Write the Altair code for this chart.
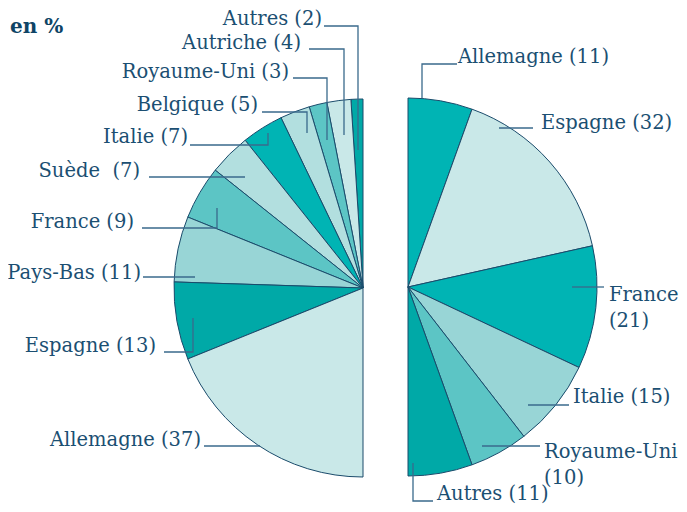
import math
import altair as alt
import pandas as pd

# ---------------- data ----------------
left_names = ["Autres", "Autriche", "Royaume-Uni", "Belgique", "Italie",
              "Suède", "France", "Pays-Bas", "Espagne", "Allemagne"]
left_values = [2, 4, 3, 5, 7, 7, 9, 11, 13, 37]
left_labels = ["Autres (2)", "Autriche (4)", "Royaume-Uni (3)", "Belgique (5)",
               "Italie (7)", "Suède\u00a0 (7)", "France (9)", "Pays-Bas (11)",
               "Espagne (13)", "Allemagne (37)"]

right_names = ["Allemagne", "Espagne", "France", "Italie", "Royaume-Uni", "Autres"]
right_values = [11, 32, 21, 15, 10, 11]
right_labels = ["Allemagne (11)", "Espagne (32)", "France\n(21)", "Italie (15)",
                "Royaume-Uni\n(10)", "Autres (11)"]

# ---------------- styles / layout ----------------
DARK = "#00A9A7"
TEAL = "#00B4B4"
VLIGHT = "#C9E8E8"
LIGHT = "#B2DFDF"
MLIGHT = "#98D5D6"
MED = "#5CC5C5"
left_colors = [DARK, VLIGHT, MED, LIGHT, TEAL, LIGHT, MED, MLIGHT, DARK, VLIGHT]
right_colors = [TEAL, VLIGHT, TEAL, MLIGHT, MED, DARK]

TEXT_COLOR = "#1B4F72"
LINE_COLOR = "#3A6A8C"
EDGE_COLOR = "#1A4B6B"
FONT = "DejaVu Serif"
FS = 19.5
R = 189
OFF = 8  # page margin
W, H = 671, 496

left_center = (363, 288)
right_center = (408, 287)

# label anchor positions (page px, vertical centre)
left_label_pos = [(322, 19), (301, 43), (289, 72), (258, 105), (188, 137),
                  (140, 171), (134, 222), (141, 273), (156, 346), (201, 440)]
right_label_pos = [(458, 57), (541, 123), (609, 295), (573, 397), (544, 452), (437, 494)]

left_leaders = [
    [(324, 26), (358, 26), (358, 150)],
    [(309, 49), (344, 49), (344, 135)],
    [(293, 78), (327, 78), (327, 140)],
    [(262, 112), (307, 112), (307, 133)],
    [(190, 145), (268, 145), (268, 133)],
    [(149, 177), (245, 177)],
    [(142, 228), (217, 228), (217, 208)],
    [(143, 277), (195, 277)],
    [(164, 352), (193, 352), (193, 318)],
    [(204, 446), (260, 446)],
]
right_leaders = [
    [(457, 64), (422, 64), (422, 98)],
    [(533, 128), (499, 128)],
    [(604, 287), (572, 287)],
    [(569, 405), (528, 405)],
    [(540, 446), (482, 446)],
    [(433, 501), (413, 501), (413, 463)],
]

# ---------------- tables ----------------
left_df = pd.DataFrame({"name": left_names, "value": left_values,
                        "color": left_colors, "idx": range(len(left_names))})
right_df = pd.DataFrame({"name": right_names, "value": right_values,
                         "color": right_colors, "idx": range(len(right_names))})

rows = []
for side, leaders in (("L", left_leaders), ("R", right_leaders)):
    for i, pts in enumerate(leaders):
        for s, (x, y) in enumerate(pts):
            rows.append({"key": f"{side}{i}", "seq": s, "x": x, "y": y})
lines_df = pd.DataFrame(rows)

ltext_df = pd.DataFrame({"label": left_labels,
                         "x": [p[0] for p in left_label_pos],
                         "y": [p[1] for p in left_label_pos]})
rtext_df = pd.DataFrame({"label": right_labels,
                         "x": [p[0] for p in right_label_pos],
                         "y": [p[1] for p in right_label_pos]})
title_df = pd.DataFrame({"label": ["en %"], "x": [10], "y": [27]})

xs = alt.Scale(domain=[OFF, OFF + W], nice=False, zero=False)
ys = alt.Scale(domain=[OFF, OFF + H], nice=False, zero=False, reverse=True)
X = lambda: alt.X("x:Q", scale=xs, axis=None)
Y = lambda: alt.Y("y:Q", scale=ys, axis=None)

left_arc = alt.Chart(left_df).mark_arc(
    radius=R, x=left_center[0] - OFF, y=left_center[1] - OFF,
    stroke=EDGE_COLOR, strokeWidth=1
).encode(
    theta=alt.Theta("value:Q", stack=True,
                    scale=alt.Scale(range=[2 * math.pi, math.pi])),
    color=alt.Color("color:N", scale=None),
    order=alt.Order("idx:Q"),
)

right_arc = alt.Chart(right_df).mark_arc(
    radius=R, x=right_center[0] - OFF, y=right_center[1] - OFF,
    stroke=EDGE_COLOR, strokeWidth=1
).encode(
    theta=alt.Theta("value:Q", stack=True,
                    scale=alt.Scale(range=[0, math.pi])),
    color=alt.Color("color:N", scale=None),
    order=alt.Order("idx:Q"),
)

leaders = alt.Chart(lines_df).mark_line(
    color=LINE_COLOR, strokeWidth=1.3
).encode(x=X(), y=Y(), detail="key:N", order=alt.Order("seq:Q"))

ltext = alt.Chart(ltext_df).mark_text(
    align="right", baseline="middle", font=FONT, fontSize=FS, color=TEXT_COLOR
).encode(x=X(), y=Y(), text="label:N")

rtext = alt.Chart(rtext_df).mark_text(
    align="left", baseline="middle", font=FONT, fontSize=FS, color=TEXT_COLOR,
    lineBreak="\n", lineHeight=26
).encode(x=X(), y=Y(), text="label:N")

title = alt.Chart(title_df).mark_text(
    align="left", baseline="middle", font=FONT, fontSize=20, fontWeight="bold",
    color="#0E4466"
).encode(x=X(), y=Y(), text="label:N")

chart = alt.layer(left_arc, right_arc, leaders, ltext, rtext, title).resolve_scale(
    theta="independent"
).properties(
    width=W, height=H, padding=0, autosize=alt.AutoSizeParams(type="none")
).configure_view(stroke=None)

chart.save("out.html", embed_options={"renderer": "svg", "actions": False})
